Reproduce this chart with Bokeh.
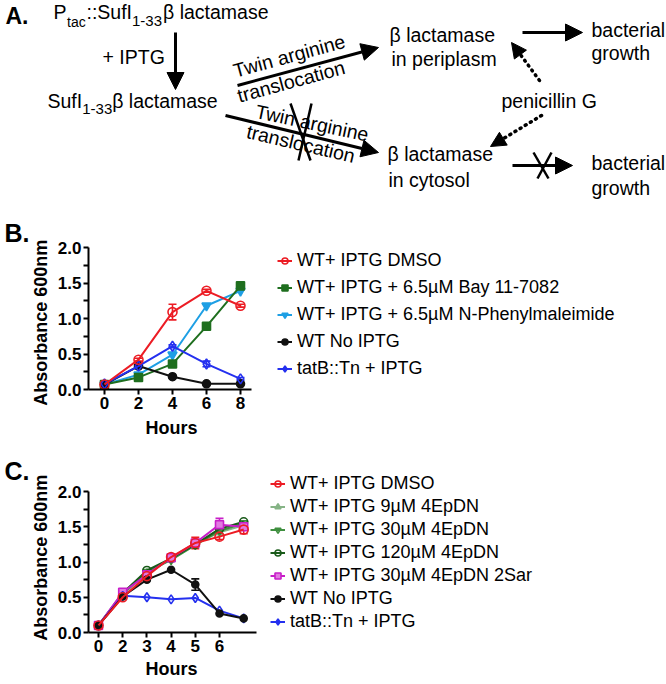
from bokeh.plotting import figure
from bokeh.layouts import column
from bokeh.models import (Range1d, FixedTicker, Legend, LegendItem, Whisker, TeeHead,
                          ColumnDataSource, Arrow, NormalHead, NumeralTickFormatter,
                          LinearAxis)
from bokeh.embed import file_html
from bokeh.resources import INLINE
from bokeh.core.properties import value
import math

FONT = "Liberation Sans"

# ---------------- data: panel B ----------------
b_hours = [0, 2, 4, 6, 8]
b_dmso = [0.07, 0.42, 1.09, 1.39, 1.18]
b_dmso_err = [0.0, 0.02, 0.11, 0.02, 0.02]
b_bay = [0.07, 0.17, 0.36, 0.89, 1.46]
b_nphen = [0.07, 0.21, 0.49, 1.18, 1.39]
b_noiptg = [0.07, 0.33, 0.18, 0.08, 0.08]
b_tatb = [0.08, 0.33, 0.61, 0.36, 0.15]
b_tatb_err = [0.0, 0.0, 0.02, 0.04, 0.02]
b_xticks = [0, 2, 4, 6, 8]
b_labels = ["WT+ IPTG DMSO", "WT+ IPTG + 6.5µM Bay 11-7082",
            "WT+ IPTG + 6.5µM N-Phenylmaleimide", "WT No IPTG", "tatB::Tn + IPTG"]

# ---------------- data: panel C ----------------
c_pos = [0, 1, 2, 3, 4, 5, 6]
c_hour_labels = ["0", "2", "3", "4", "5", "6"]
c_dmso = [0.10, 0.50, 0.80, 1.07, 1.27, 1.36, 1.46]
c_dmso_err = [0.0, 0.0, 0.0, 0.03, 0.08, 0.04, 0.06]
c_9 = [0.10, 0.54, 0.84, 1.04, 1.26, 1.42, 1.52]
c_30 = [0.10, 0.55, 0.86, 1.03, 1.24, 1.44, 1.55]
c_120 = [0.10, 0.56, 0.88, 1.05, 1.25, 1.47, 1.57]
c_2sar = [0.10, 0.57, 0.82, 1.06, 1.27, 1.53, 1.50]
c_2sar_err = [0.0, 0.0, 0.0, 0.0, 0.0, 0.09, 0.03]
c_noiptg = [0.10, 0.51, 0.75, 0.89, 0.68, 0.27, 0.20]
c_noiptg_err = [0.0, 0.0, 0.0, 0.0, 0.08, 0.0, 0.0]
c_tatb = [0.10, 0.52, 0.50, 0.47, 0.49, 0.31, 0.20]
c_labels = ["WT+ IPTG DMSO", "WT+ IPTG 9µM 4EpDN", "WT+ IPTG 30µM 4EpDN",
            "WT+ IPTG 120µM 4EpDN", "WT+ IPTG 30µM 4EpDN 2Sar", "WT No IPTG",
            "tatB::Tn + IPTG"]

y_ticks = [0, 0.5, 1.0, 1.5, 2.0]
y_minor = [0.25, 0.75, 1.25, 1.75]
x_title = "Hours"
y_title = "Absorbance 600nm"

RED = "#ec1c24"
GREEN = "#1f6f1f"
LBLUE = "#1e9fe4"
BLACK = "#111111"
BLUE = "#2430ef"
G9 = "#86b486"
G30 = "#3f8f3f"
G120 = "#195a19"
MAG = "#c81ec8"


def series(p, x, y, color, marker, fill, size):
    src = ColumnDataSource(dict(x=x, y=y))
    ln = p.line("x", "y", source=src, line_color=color, line_width=2)
    sc = p.scatter("x", "y", source=src, marker=marker, size=size, line_color=color,
                   fill_color=fill, line_width=1.6)
    return [ln, sc]


def errbars(p, x, y, err, color):
    xs = [a for a, e in zip(x, err) if e > 0]
    up = [b + e for b, e in zip(y, err) if e > 0]
    lo = [b - e for b, e in zip(y, err) if e > 0]
    src = ColumnDataSource(dict(x=xs, upper=up, lower=lo))
    p.add_layout(Whisker(source=src, base="x", upper="upper", lower="lower",
                         line_color=color, line_width=1.6,
                         upper_head=TeeHead(size=8, line_color=color, line_width=1.6),
                         lower_head=TeeHead(size=8, line_color=color, line_width=1.6)))


def text_axis(tick, text, size, standoff, orientation="horizontal"):
    """A line-less axis whose single tick label carries a title text."""
    return LinearAxis(ticker=FixedTicker(ticks=[tick], minor_ticks=[]),
                      major_label_overrides={tick: text},
                      axis_line_color=None, major_tick_line_color=None,
                      minor_tick_line_color=None, major_tick_out=0, major_tick_in=0,
                      major_label_standoff=standoff, major_label_text_font=FONT,
                      major_label_text_font_size=size,
                      major_label_text_font_style="bold",
                      major_label_text_color="black",
                      major_label_orientation=orientation)


def style_axes(p, xbounds, x_mid, y_mid, x_title_standoff, panel_label, label_y):
    p.grid.visible = False
    p.outline_line_color = None
    for ax in (p.xaxis[0], p.yaxis[0]):
        ax.axis_line_width = 2
        ax.axis_line_color = "black"
        ax.major_tick_line_width = 2
        ax.minor_tick_line_width = 2
        ax.major_tick_in = 0
        ax.major_tick_out = 5
        ax.minor_tick_in = 0
        ax.minor_tick_out = 5
        ax.major_label_text_font = FONT
        ax.major_label_text_font_size = "17px"
        ax.major_label_text_font_style = "bold"
        ax.major_label_text_color = "black"
    p.yaxis[0].ticker = FixedTicker(ticks=y_ticks, minor_ticks=y_minor)
    p.yaxis[0].formatter = NumeralTickFormatter(format="0.0")
    p.yaxis[0].major_label_standoff = 2
    p.yaxis[0].bounds = (0, 2)
    p.xaxis[0].major_label_standoff = 2
    p.xaxis[0].bounds = xbounds
    # axis titles centred on the drawn axis lines
    p.add_layout(text_axis(y_mid, y_title, "18px", 3, "parallel"), "left")
    p.add_layout(text_axis(label_y, panel_label, "25px", -1), "left")
    p.add_layout(text_axis(x_mid, x_title, "18px", x_title_standoff), "below")


def make_legend(items, x, y, lh, sp):
    return Legend(items=items, location=(x, y), label_text_font=FONT,
                  label_text_font_size="18px", label_text_color="black",
                  glyph_width=15, glyph_height=lh, label_height=lh, spacing=sp,
                  padding=0, margin=0, label_standoff=5, border_line_color=None,
                  background_fill_alpha=0)


# ---------------- panel A (diagram) ----------------
pa = figure(width=666, height=200, x_range=Range1d(0, 666), y_range=Range1d(200, 0),
            x_axis_type=None, y_axis_type=None, toolbar_location=None,
            output_backend="svg", min_border=0)
pa.grid.visible = False
pa.outline_line_color = None

K = 0.35  # baseline correction, fraction of font size


def atext(txt, xs, ys, size, angle=0.0, bold=False):
    s = float(size[:-2])
    a = math.radians(angle)
    dx = -K * s * math.sin(a)
    dy = -K * s * math.cos(a)
    pa.text(x=[v + dx for v in xs], y=[v + dy for v in ys], text=txt,
            angle=angle, angle_units="deg", text_font=value(FONT),
            text_font_size=size, text_font_style="bold" if bold else "normal",
            text_baseline="alphabetic", text_align="left", text_color="black")


atext(["A."], [5], [24], "23px", bold=True)
atext(["P", "::SufI", "β lactamase", "+ IPTG", "SufI", "β lactamase",
       "β lactamase", "in periplasm", "bacterial", "growth", "penicillin G",
       "β lactamase", "in cytosol", "bacterial", "growth"],
      [53, 86, 162.5, 102, 47, 111.7, 389, 391, 591, 591, 501, 387, 388, 591, 591],
      [18, 18, 18, 63, 107, 107, 41, 65, 36, 59, 107, 160, 186, 169, 194], "19.5px")
atext(["tac"], [66.5], [26], "14px")
atext(["1-33", "1-33"], [131.5, 81.7], [26, 114], "15px")
atext(["Twin arginine"], [235], [77], "19.5px", angle=15.3)
atext(["translocation"], [239], [102], "19.5px", angle=15.3)
atext(["Twin arginine"], [254], [117], "19.5px", angle=-12)
atext(["translocation"], [245], [137], "19.5px", angle=-13.3)

solid_arrows = [(175, 32, 175, 89), (237, 85, 378, 47), (225, 115, 378, 152),
                (522, 32, 582, 32), (512, 165, 572, 165)]
for x0, y0, x1, y1 in solid_arrows:
    pa.add_layout(Arrow(end=NormalHead(size=17, fill_color="black", line_color="black"),
                        x_start=x0, y_start=y0, x_end=x1, y_end=y1,
                        line_width=3, line_color="black"))
dot_arrows = [(539, 80, 511, 42), (541, 115, 490, 146)]
for x0, y0, x1, y1 in dot_arrows:
    pa.add_layout(Arrow(end=NormalHead(size=15, fill_color="black", line_color="black",
                                       line_dash="solid"),
                        x_start=x0, y_start=y0, x_end=x1, y_end=y1,
                        line_width=3.5, line_color="black", line_dash="1 5",
                        line_cap="round"))
pa.segment(x0=[290, 311, 533, 551], y0=[103, 103, 152, 152],
           x1=[310, 298, 548, 537], y1=[160, 160, 178, 178],
           line_width=2.5, line_color="black")

# ---------------- panel B ----------------
pb = figure(width=666, height=242, x_range=Range1d(-0.941, 33.06),
            y_range=Range1d(0, 2.493), min_border_left=88, min_border_right=0,
            min_border_top=12, min_border_bottom=53, toolbar_location=None,
            output_backend="svg")
style_axes(pb, (-0.941, 8.65), 3.94, 0.94, 6, "B.", 2.21)
pb.xaxis[0].ticker = FixedTicker(ticks=b_xticks, minor_ticks=[])

rb_nophen = series(pb, b_hours, b_nphen, LBLUE, "inverted_triangle", LBLUE, 9)
rb_bay = series(pb, b_hours, b_bay, GREEN, "square", GREEN, 8)
rb_no = series(pb, b_hours, b_noiptg, BLACK, "circle", BLACK, 8)
rb_tat = series(pb, b_hours, b_tatb, BLUE, "diamond", None, 10)
errbars(pb, b_hours, b_tatb, b_tatb_err, BLUE)
rb_dmso = series(pb, b_hours, b_dmso, RED, "circle", None, 9)
errbars(pb, b_hours, b_dmso, b_dmso_err, RED)

items_b = [LegendItem(label=b_labels[0], renderers=rb_dmso),
           LegendItem(label=b_labels[1], renderers=rb_bay),
           LegendItem(label=b_labels[2], renderers=rb_nophen),
           LegendItem(label=b_labels[3], renderers=rb_no),
           LegendItem(label=b_labels[4], renderers=rb_tat)]
pb.add_layout(make_legend(items_b, 189, 10, 21, 6))

# ---------------- panel C ----------------
pc = figure(width=666, height=242, x_range=Range1d(-0.413, 23.47),
            y_range=Range1d(0, 2.525), min_border_left=88, min_border_right=0,
            min_border_top=12, min_border_bottom=52, toolbar_location=None,
            output_backend="svg")
style_axes(pc, (-0.413, 6.53), 3.02, 1.06, 4, "C.", 2.284)
pc.xaxis[0].ticker = FixedTicker(ticks=c_pos[:len(c_hour_labels)], minor_ticks=[])
pc.xaxis[0].major_label_overrides = {p_: l_ for p_, l_ in zip(c_pos, c_hour_labels)}

rc_9 = series(pc, c_pos, c_9, G9, "triangle", None, 8)
rc_30 = series(pc, c_pos, c_30, G30, "inverted_triangle", None, 8)
rc_120 = series(pc, c_pos, c_120, G120, "circle", None, 8)
rc_2sar = series(pc, c_pos, c_2sar, MAG, "square", "#e07ae0", 8)
errbars(pc, c_pos, c_2sar, c_2sar_err, MAG)
rc_tat = series(pc, c_pos, c_tatb, BLUE, "diamond", None, 9)
rc_no = series(pc, c_pos, c_noiptg, BLACK, "circle", BLACK, 7)
errbars(pc, c_pos, c_noiptg, c_noiptg_err, BLACK)
rc_dmso = series(pc, c_pos, c_dmso, RED, "circle", None, 9)
errbars(pc, c_pos, c_dmso, c_dmso_err, RED)

items_c = [LegendItem(label=c_labels[0], renderers=rc_dmso),
           LegendItem(label=c_labels[1], renderers=rc_9),
           LegendItem(label=c_labels[2], renderers=rc_30),
           LegendItem(label=c_labels[3], renderers=rc_120),
           LegendItem(label=c_labels[4], renderers=rc_2sar),
           LegendItem(label=c_labels[5], renderers=rc_no),
           LegendItem(label=c_labels[6], renderers=rc_tat)]
pc.add_layout(make_legend(items_c, 182, 0, 21, 2))

layout = column(pa, column(pb, pc, spacing=0), spacing=0)
open("out.html", "w").write(file_html(layout, INLINE))
